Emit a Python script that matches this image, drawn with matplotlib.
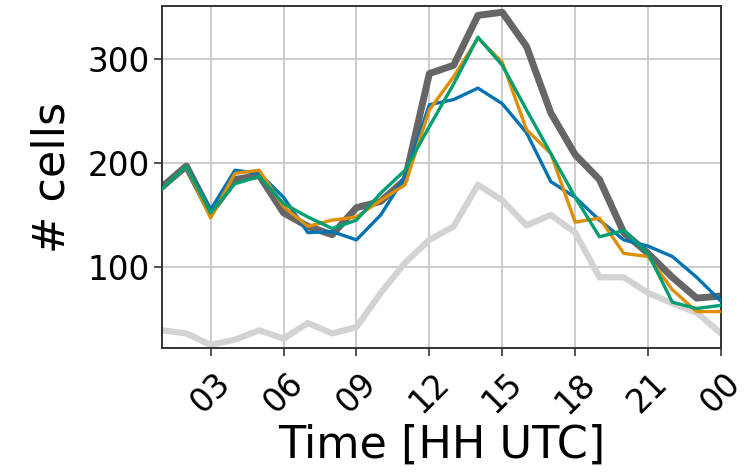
import matplotlib
matplotlib.use("Agg")
import matplotlib.pyplot as plt

# hours 01..24 (24 shown as "00")
hours = list(range(1, 25))

obs_total = [177, 197, 152, 184, 188, 152, 139, 131, 157, 163, 184, 286,
             294, 342, 345, 312, 248, 208, 184, 133, 113, 90, 70, 72]
obs_low = [39, 36, 25, 30, 39, 31, 46, 36, 42, 75, 104, 126,
           139, 179, 164, 140, 150, 133, 90, 90, 75, 65, 56, 36]
model_a = [175, 197, 155, 193, 190, 167, 133, 134, 126, 150, 187, 256,
           261, 272, 257, 229, 182, 167, 145, 126, 120, 110, 90, 67]
model_b = [175, 197, 147, 190, 193, 158, 139, 145, 148, 164, 179, 251,
           283, 320, 297, 232, 209, 143, 147, 113, 110, 78, 57, 57]
model_c = [175, 197, 152, 180, 187, 161, 148, 137, 145, 171, 193, 235,
           276, 321, 294, 251, 209, 167, 129, 135, 113, 66, 60, 63]

tick_pos = [3, 6, 9, 12, 15, 18, 21, 24]
tick_labels = ["03", "06", "09", "12", "15", "18", "21", "00"]
y_ticks = [100, 200, 300]

fig = plt.figure(figsize=(7.54, 4.73), dpi=100)
ax = fig.add_axes([0.2149, 0.2643, 0.7413, 0.7230])

ax.plot(hours, obs_total, color="#666666", lw=5.0, zorder=2)
ax.plot(hours, obs_low, color="#d3d3d3", lw=4.5, zorder=2)
ax.plot(hours, model_a, color="#0173b2", lw=2.4, zorder=3)
ax.plot(hours, model_b, color="#de8f05", lw=2.4, zorder=3)
ax.plot(hours, model_c, color="#029e73", lw=2.4, zorder=3)

ax.set_xlim(1, 24)
ax.set_ylim(22, 351)
ax.set_xticks(tick_pos)
ax.set_xticklabels(tick_labels, rotation=45)
ax.set_yticks(y_ticks)
ax.tick_params(labelsize=23.5, length=5.5, width=1.2, color="#333333")
ax.tick_params(axis="x", pad=8)
ax.grid(True, color="#c8c8c8", lw=1.3)
ax.set_axisbelow(True)
for s in ax.spines.values():
    s.set_color("#333333")
    s.set_linewidth(1.4)

ax.set_xlabel("Time [HH UTC]", fontsize=32, labelpad=3)
ax.set_ylabel("# cells", fontsize=32, labelpad=10)

fig.savefig("out.png", dpi=100)
